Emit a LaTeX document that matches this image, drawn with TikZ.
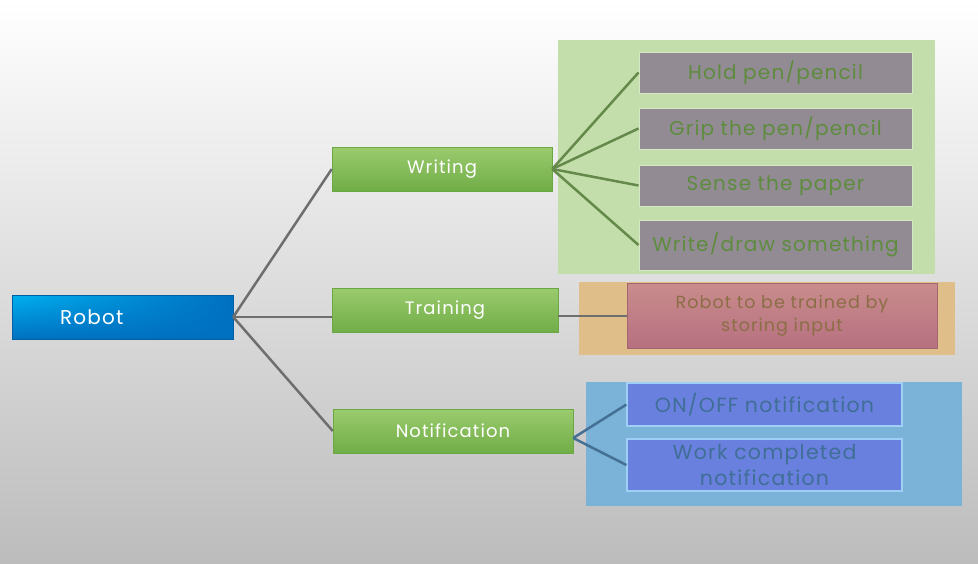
\documentclass[tikz,border=0pt]{standalone}
\usepackage{fontspec}
\setmainfont[LetterSpace=6]{Poppins}
\usepackage{tikz}
\usetikzlibrary{shadings}
\usepackage{xcolor}
\definecolor{bgbot}{RGB}{188,188,188}
\definecolor{robotblue}{RGB}{0,112,192}
\definecolor{robotlight}{RGB}{0,176,240}
\definecolor{greentop}{RGB}{155,203,109}
\definecolor{greenbot}{RGB}{112,173,71}
\definecolor{greenedge}{RGB}{106,168,67}
\definecolor{groupgreen}{RGB}{195,222,170}
\definecolor{itemgray}{RGB}{146,139,147}
\definecolor{itemtext}{RGB}{94,140,62}
\definecolor{grouporange}{RGB}{224,190,138}
\definecolor{redtop}{RGB}{201,140,140}
\definecolor{redbot}{RGB}{182,112,128}
\definecolor{redtext}{RGB}{140,110,70}
\definecolor{groupblue}{RGB}{122,178,216}
\definecolor{bluebox}{RGB}{106,128,222}
\definecolor{blueedge}{RGB}{158,208,245}
\definecolor{bluetext}{RGB}{63,110,150}
\definecolor{linegray}{RGB}{110,110,110}

\begin{document}
\begin{tikzpicture}[x=1pt,y=-1pt,
  root/.style={draw=robotblue!85!black, line width=.5pt, upper left=robotlight, upper right=robotblue, lower left=robotblue, lower right=robotblue, text=white, font=\fontsize{20}{24}\selectfont, minimum height=44pt, inner xsep=48pt, text width=125pt, align=left},
  branch/.style={draw=greenedge, line width=.5pt, top color=greentop, bottom color=greenbot, text=white, font=\fontsize{18}{22}\selectfont, minimum height=44pt, inner sep=0pt},
  task/.style={draw=groupgreen!70!white, line width=1pt, fill=itemgray, text=itemtext, font=\fontsize{20}{24}\selectfont, minimum width=273pt, inner sep=0pt},
  store/.style={draw=redbot!90!black, line width=.5pt, top color=redtop, bottom color=redbot, text=redtext, font=\fontsize{17.5}{23}\selectfont, minimum width=310pt, minimum height=65pt, inner sep=0pt, align=center},
  alert/.style={draw=blueedge, line width=1.2pt, fill=bluebox, text=bluetext, font=\fontsize{20.5}{25}\selectfont, minimum width=275pt, inner sep=0pt, align=center},
  link/.style={line width=2.5pt, linegray}]
% fond
\shade[top color=white, bottom color=bgbot] (0,0) rectangle (978,563);
\fill[groupgreen] (558,40) rectangle (935,274);
\fill[grouporange] (579,282) rectangle (955,355);
\fill[groupblue] (586,382) rectangle (962,506);
% nodes
\node[root] (robot) at (122.5,317) {Robot};
\node[branch, minimum width=220pt] (writing) at (442,169) {Writing};
\node[branch, minimum width=226pt] (training) at (445,310) {Training};
\node[branch, minimum width=240pt] (notif) at (453,431) {Notification};
\node[task, minimum height=41pt] (hold) at (775.5,72.5) {Hold pen/pencil};
\node[task, minimum height=41pt] (grip) at (775.5,128.5) {Grip the pen/pencil};
\node[task, minimum height=41pt] (sense) at (775.5,185.5) {Sense the paper};
\node[task, minimum height=50pt] (write) at (775.5,245) {Write/draw something};
\node[store] (store) at (782,316) {Robot to be trained by\\storing input};
\node[alert, minimum height=43pt] (onoff) at (764.5,404.5) {ON/OFF notification};
\node[alert, minimum height=52pt] (done) at (764.5,465) {Work completed\\notification};
% liens
\draw[link] (robot.east) -- (writing.west);
\draw[link] (robot.east) -- (robot.east -| training.west);
\draw[link] (robot.east) -- (notif.west);
\draw[link] (store.west -| training.east) -- (store.west);
\foreach \t in {hold,grip,sense,write}
  \draw[link, itemtext!80!gray] (writing.east) -- (\t.west);
\foreach \t in {onoff,done}
  \draw[link, bluetext!90!gray] ([yshift=-7pt]notif.east) -- (\t.west);
\end{tikzpicture}
\end{document}
